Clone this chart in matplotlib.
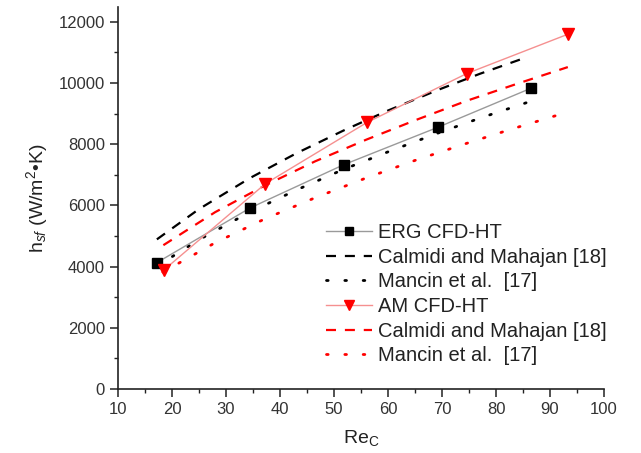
import matplotlib
matplotlib.use("Agg")
import matplotlib.pyplot as plt
from matplotlib.ticker import MultipleLocator

plt.rcParams['font.family'] = ['Liberation Sans', 'DejaVu Sans']
plt.rcParams['mathtext.fontset'] = 'custom'
plt.rcParams['mathtext.rm'] = 'Liberation Sans'
plt.rcParams['mathtext.it'] = 'Liberation Sans:italic'

# CFD results
re_erg = [17.2, 34.5, 51.8, 69.2, 86.5]
h_erg = [4130, 5920, 7330, 8550, 9830]
re_am = [18.5, 37.3, 56.1, 74.6, 93.4]
h_am = [3890, 6710, 8710, 10310, 11600]

# correlations over the ERG range
re_calmidi_erg = [17.2, 25.0, 34.5, 43.0, 51.8, 60.0, 69.2, 77.0, 85.0]
h_calmidi_erg = [4890, 5880, 6900, 7700, 8450, 9100, 9770, 10300, 10800]
re_mancin_erg = [17.2, 25.0, 34.5, 43.0, 51.8, 60.0, 69.2, 77.0, 85.7]
h_mancin_erg = [4010, 4880, 5790, 6500, 7180, 7750, 8360, 8850, 9360]

# correlations over the AM range
re_calmidi_am = [18.4, 28.0, 37.2, 46.5, 56.0, 65.0, 74.6, 84.0, 93.3]
h_calmidi_am = [4700, 5780, 6650, 7440, 8150, 8780, 9420, 9980, 10520]
re_mancin_am = [18.3, 28.0, 37.2, 46.5, 56.0, 65.0, 74.6, 83.0, 91.4]
h_mancin_am = [3820, 4780, 5560, 6250, 6900, 7470, 8030, 8500, 8950]

fig = plt.figure(figsize=(6.41, 4.53), dpi=100)
ax = fig.add_axes([118/641, 1-389/453, 486/641, (389-6.5)/453])

dash = (4.5, 4.0)
dot = (0.6, 6.0)

ax.plot(re_erg, h_erg, color='#9a9a9a', lw=1.0, marker='s', ms=7.5,
        mfc='black', mec='black', label='ERG CFD-HT', zorder=4)
ax.plot(re_calmidi_erg, h_calmidi_erg, color='black', lw=1.6, dashes=dash,
        label='Calmidi and Mahajan [18]')
ax.plot(re_mancin_erg, h_mancin_erg, color='black', lw=2.0, dashes=dot,
        dash_capstyle='round', label='Mancin et al.  [17]')
ax.plot(re_am, h_am, color='#f59090', lw=1.0, marker='v', ms=9,
        mfc='red', mec='red', label='AM CFD-HT', zorder=4)
ax.plot(re_calmidi_am, h_calmidi_am, color='red', lw=1.6, dashes=dash,
        label='Calmidi and Mahajan [18]')
ax.plot(re_mancin_am, h_mancin_am, color='red', lw=2.0, dashes=dot,
        dash_capstyle='round', label='Mancin et al.  [17]')

ax.set_xlim(10, 100)
ax.set_ylim(0, 12500)
ax.xaxis.set_major_locator(MultipleLocator(10))
ax.xaxis.set_minor_locator(MultipleLocator(5))
ax.yaxis.set_minor_locator(MultipleLocator(1000))
ax.set_yticks(range(0, 12001, 2000))

for s in ['top', 'right']:
    ax.spines[s].set_visible(False)
for s in ['left', 'bottom']:
    ax.spines[s].set_linewidth(1.2)
    ax.spines[s].set_color('#222222')

ax.tick_params(which='major', direction='out', length=6, width=1.1,
               labelsize=12, colors='#222222', labelcolor='#333333')
ax.tick_params(which='minor', direction='out', length=3, width=1.0,
               colors='#222222')

ax.set_xlabel(r'Re$_\mathrm{C}$', fontsize=14, color='#222222', labelpad=8)
ax.set_ylabel(r'h$_{\mathit{sf}}$ (W/m$^2$•K)', fontsize=14, color='#222222',
              labelpad=6)

leg = ax.legend(loc='upper left', bbox_to_anchor=(0.428, 0.4335),
                frameon=False, fontsize=14.5, borderpad=0, borderaxespad=0,
                labelspacing=0.28, handlelength=2.3, handletextpad=0.3,
                markerscale=0.75)
for t in leg.get_texts():
    t.set_color('#222222')

fig.savefig('out.png', dpi=100)
